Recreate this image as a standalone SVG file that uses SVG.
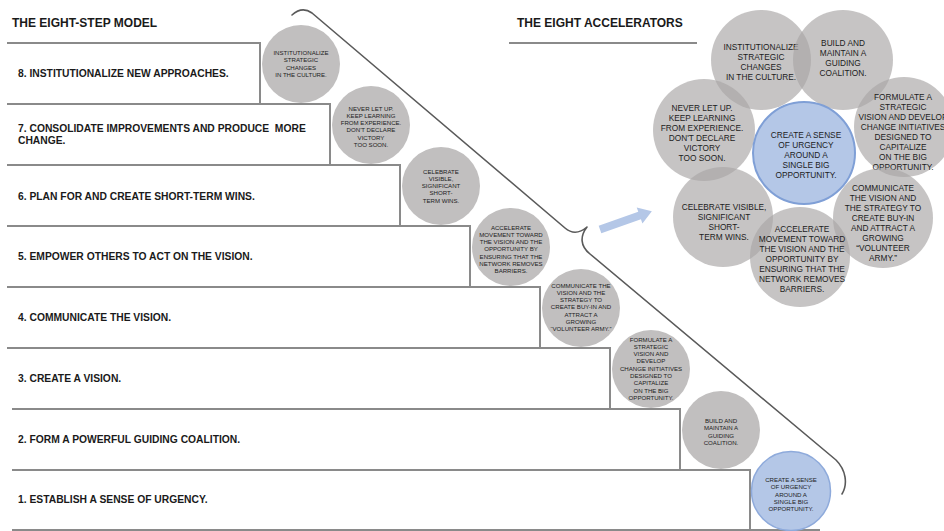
<svg xmlns="http://www.w3.org/2000/svg" width="944" height="531" viewBox="0 0 944 531">
<style>
  .title { font-family: "Liberation Sans", Arial, sans-serif; font-weight: bold; font-size: 12px; fill: #1a1a1a; }
  .step { font-family: "Liberation Sans", Arial, sans-serif; font-weight: bold; font-size: 10.3px; fill: #1a1a1a; }
  .stair { fill: none; stroke: #8a8a8a; stroke-width: 2; }
  .sc { fill: #c1bfbf; }
  .sc-blue { fill: #b4c7e7; stroke: #8eaadb; stroke-width: 1.5; }
  .st { font-family: "Liberation Sans", Arial, sans-serif; font-size: 6.1px; fill: #222222; text-anchor: middle; }
  .ac { fill: #a9a6a6; fill-opacity: 0.66; }
  .ac-blue { fill: #b4c7e7; stroke: #7f9fd6; stroke-width: 2; }
  .at { font-family: "Liberation Sans", Arial, sans-serif; font-size: 8.3px; fill: #1c1c1c; text-anchor: middle; }
  .bracket { fill: none; stroke: #5a5a5a; stroke-width: 1.6; stroke-linejoin: round; stroke-linecap: round; }
</style>

<text class="title" x="12" y="27">THE EIGHT-STEP MODEL</text>
<text class="title" x="517" y="27">THE EIGHT ACCELERATORS</text>
<line x1="509" y1="43" x2="697" y2="43" stroke="#8a8a8a" stroke-width="2"/>

<g id="connectors">
  <path class="bracket" d="M292,15 Q302,6 312,13 L565,228 C572,234 580,233 587,227 C580,236 580,246 590,254 L836,460 C846,470 848,484 842,494"/>
  <polygon transform="translate(600,229.5) rotate(-19.5)" points="0,-4 42,-4 42,-8.5 55,0 42,8.5 42,4 0,4" fill="#b4c7e7"/>
</g>

<g id="stairs">
  <path class="stair" d="M7,43 H260 V104"/>
  <path class="stair" d="M7,104 H330 V165"/>
  <path class="stair" d="M7,165 H400 V226"/>
  <path class="stair" d="M7,226 H470 V287"/>
  <path class="stair" d="M7,287 H540 V348"/>
  <path class="stair" d="M7,348 H610 V409"/>
  <path class="stair" d="M12,409 H680 V470"/>
  <path class="stair" d="M12,470 H750 V530"/>
  <path class="stair" d="M12,530 H820"/>
</g>

<g id="step8"><text class="step" x="18" y="76.5">8. INSTITUTIONALIZE NEW APPROACHES.</text></g>
<g id="step7"><text class="step" x="18" y="132">7. CONSOLIDATE IMPROVEMENTS AND PRODUCE&#160; MORE</text><text class="step" x="18" y="143.5">CHANGE.</text></g>
<g id="step6"><text class="step" x="18" y="199.5">6. PLAN FOR AND CREATE SHORT-TERM WINS.</text></g>
<g id="step5"><text class="step" x="18" y="260">5. EMPOWER OTHERS TO ACT ON THE VISION.</text></g>
<g id="step4"><text class="step" x="18" y="321">4. COMMUNICATE THE VISION.</text></g>
<g id="step3"><text class="step" x="18" y="381.5">3. CREATE A VISION.</text></g>
<g id="step2"><text class="step" x="18" y="443">2. FORM A POWERFUL GUIDING COALITION.</text></g>
<g id="step1"><text class="step" x="18" y="503">1. ESTABLISH A SENSE OF URGENCY.</text></g>

<g id="s8circle">
  <circle class="sc" cx="301" cy="64" r="39"/>
  <text class="st"><tspan x="301" y="55">INSTITUTIONALIZE</tspan><tspan x="301" y="62.3">STRATEGIC</tspan><tspan x="301" y="69.6">CHANGES</tspan><tspan x="301" y="76.9">IN THE CULTURE.</tspan></text>
</g>
<g id="s7circle">
  <circle class="sc" cx="371" cy="125" r="39"/>
  <text class="st"><tspan x="371" y="110.5">NEVER LET UP.</tspan><tspan x="371" y="117.8">KEEP LEARNING</tspan><tspan x="371" y="125.1">FROM EXPERIENCE.</tspan><tspan x="371" y="132.4">DON'T DECLARE</tspan><tspan x="371" y="139.7">VICTORY</tspan><tspan x="371" y="147">TOO SOON.</tspan></text>
</g>
<g id="s6circle">
  <circle class="sc" cx="441" cy="186" r="39"/>
  <text class="st"><tspan x="441" y="173.5">CELEBRATE</tspan><tspan x="441" y="180.8">VISIBLE,</tspan><tspan x="441" y="188.1">SIGNIFICANT</tspan><tspan x="441" y="195.4">SHORT-</tspan><tspan x="441" y="202.7">TERM WINS.</tspan></text>
</g>
<g id="s5circle">
  <circle class="sc" cx="511" cy="247" r="39"/>
  <text class="st"><tspan x="511" y="229.5">ACCELERATE</tspan><tspan x="511" y="236.8">MOVEMENT TOWARD</tspan><tspan x="511" y="244.1">THE VISION AND THE</tspan><tspan x="511" y="251.4">OPPORTUNITY BY</tspan><tspan x="511" y="258.7">ENSURING THAT THE</tspan><tspan x="511" y="266">NETWORK REMOVES</tspan><tspan x="511" y="273.3">BARRIERS.</tspan></text>
</g>
<g id="s4circle">
  <circle class="sc" cx="581" cy="308" r="39"/>
  <text class="st"><tspan x="581" y="287.5">COMMUNICATE THE</tspan><tspan x="581" y="294.8">VISION AND THE</tspan><tspan x="581" y="302.1">STRATEGY TO</tspan><tspan x="581" y="309.4">CREATE BUY-IN AND</tspan><tspan x="581" y="316.7">ATTRACT A</tspan><tspan x="581" y="324">GROWING</tspan><tspan x="581" y="331.3">“VOLUNTEER ARMY.”</tspan></text>
</g>
<g id="s3circle">
  <circle class="sc" cx="651" cy="369" r="39"/>
  <text class="st"><tspan x="651" y="341.5">FORMULATE A</tspan><tspan x="651" y="348.8">STRATEGIC</tspan><tspan x="651" y="356.1">VISION AND</tspan><tspan x="651" y="363.4">DEVELOP</tspan><tspan x="651" y="370.7">CHANGE INITIATIVES</tspan><tspan x="651" y="378">DESIGNED TO</tspan><tspan x="651" y="385.3">CAPITALIZE</tspan><tspan x="651" y="392.6">ON THE BIG</tspan><tspan x="651" y="399.9">OPPORTUNITY.</tspan></text>
</g>
<g id="s2circle">
  <circle class="sc" cx="721" cy="430" r="39"/>
  <text class="st"><tspan x="721" y="423">BUILD AND</tspan><tspan x="721" y="430.3">MAINTAIN A</tspan><tspan x="721" y="437.6">GUIDING</tspan><tspan x="721" y="444.9">COALITION.</tspan></text>
</g>
<g id="s1circle">
  <circle class="sc-blue" cx="791" cy="491" r="39.5"/>
  <text class="st"><tspan x="791" y="482">CREATE A SENSE</tspan><tspan x="791" y="489.3">OF URGENCY</tspan><tspan x="791" y="496.6">AROUND A</tspan><tspan x="791" y="503.9">SINGLE BIG</tspan><tspan x="791" y="511.2">OPPORTUNITY.</tspan></text>
</g>

<g id="acc-institutionalize">
  <circle class="ac" cx="761" cy="60" r="50"/>
  <text class="at"><tspan x="761" y="50">INSTITUTIONALIZE</tspan><tspan x="761" y="60">STRATEGIC</tspan><tspan x="761" y="70">CHANGES</tspan><tspan x="761" y="80">IN THE CULTURE.</tspan></text>
</g>
<g id="acc-build">
  <circle class="ac" cx="843" cy="60" r="50"/>
  <text class="at"><tspan x="843" y="46">BUILD AND</tspan><tspan x="843" y="56">MAINTAIN A</tspan><tspan x="843" y="66">GUIDING</tspan><tspan x="843" y="76">COALITION.</tspan></text>
</g>
<g id="acc-neverletup">
  <circle class="ac" cx="704" cy="130" r="51"/>
  <text class="at"><tspan x="702" y="111">NEVER LET UP.</tspan><tspan x="702" y="121">KEEP LEARNING</tspan><tspan x="702" y="131">FROM EXPERIENCE.</tspan><tspan x="702" y="141">DON'T DECLARE</tspan><tspan x="702" y="151">VICTORY</tspan><tspan x="702" y="161">TOO SOON.</tspan></text>
</g>
<g id="acc-formulate">
  <circle class="ac" cx="904" cy="127" r="50"/>
  <text class="at"><tspan x="903" y="100">FORMULATE A</tspan><tspan x="903" y="110">STRATEGIC</tspan><tspan x="903" y="120">VISION AND DEVELOP</tspan><tspan x="903" y="130">CHANGE INITIATIVES</tspan><tspan x="903" y="140">DESIGNED TO</tspan><tspan x="903" y="150">CAPITALIZE</tspan><tspan x="903" y="160">ON THE BIG</tspan><tspan x="903" y="170">OPPORTUNITY.</tspan></text>
</g>
<g id="acc-celebrate">
  <circle class="ac" cx="723" cy="217" r="50"/>
  <text class="at"><tspan x="724" y="210">CELEBRATE VISIBLE,</tspan><tspan x="724" y="220">SIGNIFICANT</tspan><tspan x="724" y="230">SHORT-</tspan><tspan x="724" y="240">TERM WINS.</tspan></text>
</g>
<g id="acc-communicate">
  <circle class="ac" cx="883" cy="218" r="50"/>
  <text class="at"><tspan x="883" y="191">COMMUNICATE</tspan><tspan x="883" y="201">THE VISION AND</tspan><tspan x="883" y="211">THE STRATEGY TO</tspan><tspan x="883" y="221">CREATE BUY-IN</tspan><tspan x="883" y="231">AND ATTRACT A</tspan><tspan x="883" y="241">GROWING</tspan><tspan x="883" y="251">“VOLUNTEER</tspan><tspan x="883" y="261">ARMY.”</tspan></text>
</g>
<g id="acc-accelerate">
  <circle class="ac" cx="800" cy="257" r="50"/>
  <text class="at"><tspan x="802" y="232">ACCELERATE</tspan><tspan x="802" y="242">MOVEMENT TOWARD</tspan><tspan x="802" y="252">THE VISION AND THE</tspan><tspan x="802" y="262">OPPORTUNITY BY</tspan><tspan x="802" y="272">ENSURING THAT THE</tspan><tspan x="802" y="282">NETWORK REMOVES</tspan><tspan x="802" y="292">BARRIERS.</tspan></text>
</g>
<g id="acc-urgency">
  <circle class="ac-blue" cx="804" cy="153" r="51"/>
  <text class="at"><tspan x="806" y="138">CREATE A SENSE</tspan><tspan x="806" y="148">OF URGENCY</tspan><tspan x="806" y="158">AROUND A</tspan><tspan x="806" y="168">SINGLE BIG</tspan><tspan x="806" y="178">OPPORTUNITY.</tspan></text>
</g>
</svg>
